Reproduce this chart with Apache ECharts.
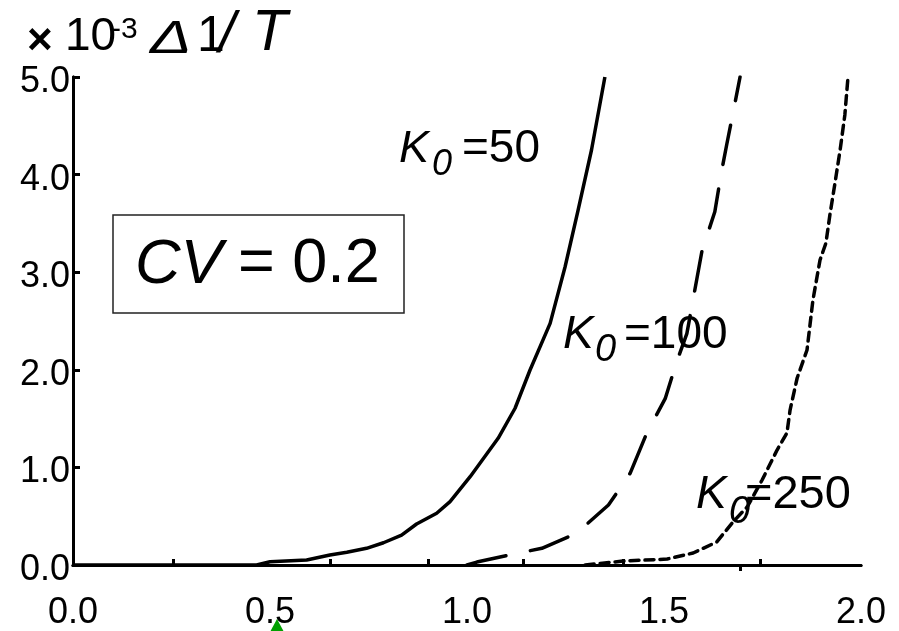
<!DOCTYPE html>
<html>
<head>
<meta charset="utf-8">
<script src="https://cdn.jsdelivr.net/npm/echarts@6/dist/echarts.min.js"></script>
<style>
html, body { margin: 0; padding: 0; background: #fff; }
#chart { width: 899px; height: 631px; }
</style>
</head>
<body>
<div id="chart"></div>
<script>
// curves: [x, 1e3 * delta(1/T)]
const k50 = [
  [0, 0], [0.466, 0], [0.500, 0.034], [0.593, 0.051], [0.652, 0.102], [0.695, 0.130],
  [0.745, 0.171], [0.788, 0.228], [0.834, 0.307], [0.872, 0.420], [0.923, 0.530],
  [0.957, 0.649], [1.008, 0.905], [1.079, 1.298], [1.122, 1.606], [1.160, 1.998],
  [1.211, 2.476], [1.249, 3.056], [1.282, 3.637], [1.316, 4.252], [1.350, 5.0]
];
const k100 = [
  [1.0, 0], [1.025, 0.03], [1.127, 0.12], [1.190, 0.171], [1.278, 0.325],
  [1.359, 0.615], [1.414, 0.939], [1.456, 1.349], [1.503, 1.704], [1.532, 2.080],
  [1.558, 2.370], [1.596, 3.210], [1.629, 3.620], [1.646, 4.030], [1.659, 4.303],
  [1.680, 4.730], [1.693, 5.0]
];
const k250 = [
  [1.30, 0], [1.396, 0.04], [1.508, 0.061], [1.574, 0.123], [1.634, 0.236],
  [1.675, 0.441], [1.711, 0.594], [1.749, 0.871], [1.787, 1.178], [1.812, 1.352],
  [1.820, 1.588], [1.838, 1.916], [1.863, 2.203], [1.878, 2.715], [1.896, 3.125],
  [1.911, 3.299], [1.921, 3.586], [1.934, 3.914], [1.947, 4.252], [1.959, 4.611],
  [1.967, 5.0]
];
const xTickValues = [0.254, 0.652, 0.901, 1.142, 1.396, 1.744];
const topTickValues = [1.693];
const seriesNames = ['K0=50', 'K0=100', 'K0=250'];

const font = 'Liberation Sans, Arial, sans-serif';
const axisLine = { show: true, lineStyle: { color: '#000', width: 3 } };

function txt(x, y, text, size, italic, extra) {
  const el = {
    type: 'text', x: x, y: y, z: 100,
    style: {
      text: text, fill: '#000', fontFamily: font, fontSize: size,
      fontStyle: italic ? 'italic' : 'normal', verticalAlign: 'middle'
    }
  };
  if (extra) {
    Object.assign(el.style, extra.style || {});
    if (extra.scaleX) el.scaleX = extra.scaleX;
  }
  return el;
}

const chart = echarts.init(document.getElementById('chart'));
chart.setOption({
  animation: false,
  grid: { left: 73, right: 38, top: 77, bottom: 66 },
  xAxis: [{
    type: 'value', min: 0, max: 2, interval: 0.5, position: 'bottom',
    axisLine: axisLine,
    axisTick: { show: true, inside: true, length: 6, customValues: xTickValues,
      lineStyle: { color: '#000', width: 3 } },
    axisLabel: { color: '#000', fontFamily: font, fontSize: 36, margin: 30,
      showMinLabel: true, showMaxLabel: true,
      formatter: v => v.toFixed(1) },
    splitLine: { show: false }
  }, {
    type: 'value', min: 0, max: 2, position: 'top',
    axisLine: axisLine,
    axisTick: { show: true, inside: true, length: 6, customValues: topTickValues,
      lineStyle: { color: '#000', width: 3 } },
    axisLabel: { show: false },
    splitLine: { show: false }
  }],
  yAxis: [{
    type: 'value', min: 0, max: 5, interval: 1, position: 'left',
    axisLine: axisLine,
    axisTick: { show: true, inside: true, length: 7, lineStyle: { color: '#000', width: 3 } },
    axisLabel: { color: '#000', fontFamily: font, fontSize: 36, margin: 3,
      showMinLabel: true, showMaxLabel: true,
      verticalAlign: 'top', lineHeight: 10,
      formatter: v => v.toFixed(1) },
    splitLine: { show: false }
  }, {
    type: 'value', min: 0, max: 5, position: 'right',
    axisLine: axisLine, axisTick: { show: false }, axisLabel: { show: false },
    splitLine: { show: false }
  }],
  series: [
    { name: seriesNames[0], type: 'line', data: k50, showSymbol: false, z: 5,
      lineStyle: { color: '#000', width: 3.5 } },
    { name: seriesNames[1], type: 'line', data: k100, showSymbol: false, z: 5,
      lineStyle: { color: '#000', width: 3.5, type: [40, 25], cap: 'round' } },
    { name: seriesNames[2], type: 'line', data: k250, showSymbol: false, z: 5,
      lineStyle: { color: '#000', width: 3.5, type: [9, 6], cap: 'round' } }
  ],
  graphic: [
    // axis title
    txt(27, 42, '×', 44, false, { style: { fontWeight: 'bold' } }),
    txt(65, 37, '10', 46, false),
    txt(111, 30, '-3', 30, false),
    txt(150, 40, 'Δ', 46, true, { scaleX: 1.35 }),
    txt(197, 37, '1', 50, false),
    txt(219, 36, '/', 58, true),
    txt(252, 34, 'T', 58, true),
    // CV box
    { type: 'rect', shape: { x: 113, y: 215, width: 291, height: 98 }, z: 100,
      style: { fill: 'none', stroke: '#222', lineWidth: 1.5 } },
    txt(135, 265, 'CV', 63, true),
    txt(238, 265, '= 0.2', 63, false),
    // curve labels
    txt(399, 149, 'K', 45, true),
    txt(432, 165, '0', 36, true),
    txt(462, 149, '=50', 46, false),
    txt(563, 335, 'K', 46, true),
    txt(595, 350, '0', 38, true),
    txt(624, 335, '=100', 46, false),
    txt(696, 495, 'K', 46, true),
    txt(729, 512, '0', 38, true),
    txt(745, 495, '=250', 47, false),
    { type: 'polygon', z: 100, shape: { points: [[277, 619], [270, 632], [284, 632]] },
      style: { fill: '#00a000' } }
  ]
});
</script>
</body>
</html>
